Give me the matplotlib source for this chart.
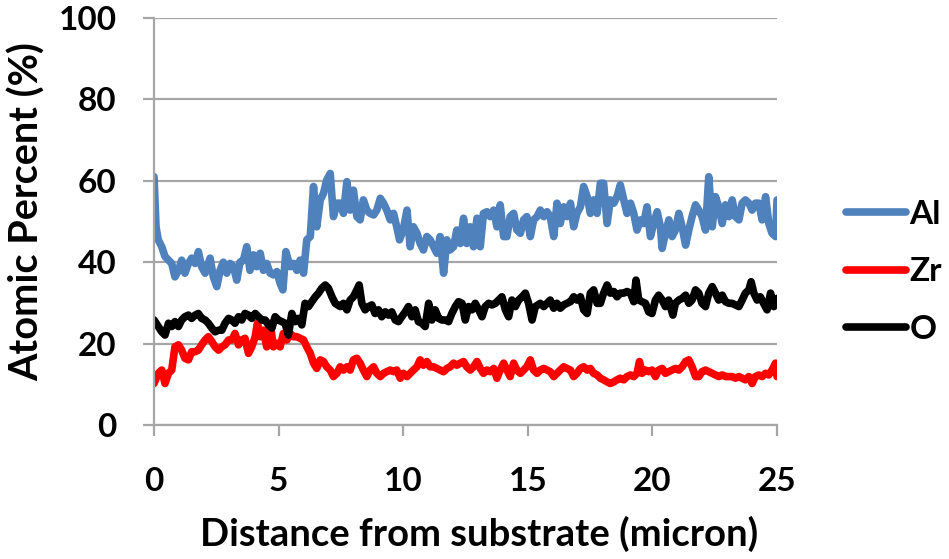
import matplotlib
matplotlib.use('Agg')
import matplotlib.pyplot as plt

# distance from substrate (micron) and atomic percent
al_x = [0, 0.08, 0.17, 0.31, 0.44, 0.58, 0.71, 0.84, 0.98, 1.11, 1.24, 1.38, 1.51, 1.65, 1.78, 1.91,
	2.05, 2.25, 2.38, 2.52, 2.65, 2.78, 2.92, 3.05, 3.19, 3.32, 3.45, 3.59, 3.72, 3.85, 3.99, 4.12,
	4.26, 4.39, 4.52, 4.66, 4.79, 4.93, 5.06, 5.17, 5.29, 5.46, 5.6, 5.73, 5.86, 6.0, 6.13, 6.27,
	6.4, 6.53, 6.67, 6.8, 6.93, 7.07, 7.2, 7.34,
	7.47, 7.6, 7.74, 7.87, 8.0, 8.14, 8.27, 8.4, 8.54, 8.67, 8.81, 8.94, 9.08, 9.21, 9.34, 9.48,
	9.61, 9.74, 9.85, 10.0, 10.15, 10.28, 10.41, 10.55, 10.68, 10.81, 10.95, 11.08, 11.22, 11.35,
	11.48, 11.62, 11.75, 11.88, 12.02, 12.15, 12.29, 12.42, 12.55, 12.69, 12.82, 12.96, 13.09,
	13.22, 13.36, 13.49, 13.63, 13.76, 13.89, 14.03, 14.16, 14.29, 14.43, 14.56, 14.7, 14.83,
	14.96, 15.1, 15.23, 15.37,
	15.5, 15.64, 15.77, 15.9, 16.04, 16.17, 16.3, 16.44, 16.57, 16.71, 16.84, 16.97, 17.11, 17.24,
	17.38, 17.51, 17.64, 17.78, 17.91, 18.04, 18.18, 18.31, 18.45, 18.58, 18.71, 18.85, 18.98,
	19.12, 19.25, 19.38, 19.52, 19.65, 19.78, 19.92, 20.05, 20.19, 20.32, 20.39, 20.52, 20.66,
	20.79, 20.92, 21.06, 21.19, 21.33, 21.46, 21.59, 21.73, 21.86, 21.99, 22.13, 22.26, 22.4,
	22.53, 22.66, 22.8, 22.93, 23.07, 23.2, 23.33, 23.47, 23.6, 23.73, 23.87, 24.0, 24.13, 24.27,
	24.4, 24.54, 24.67, 24.8, 24.94, 25.0]
al_y = [61, 48.7, 45.5, 43.8, 41.4, 40.5, 39.7, 36.4, 38, 40.5, 37.3, 39.7, 41, 39.7, 42.6, 38.9,
	37.3, 41, 36.4, 34, 38, 40, 37.3, 39.7, 38.9, 35.6, 40, 40.5, 43.8, 38, 41.8, 38.9,
	42.2, 38, 39.7, 37.3, 36.9, 37.7, 34.8, 33.2, 42.6, 38.9, 39.7, 38, 40.5, 37.3, 45.5, 46.3,
	58.6, 48.7, 55.3, 56.9, 60.2, 61.8, 51.2, 54.5,
	54.5, 52, 59.8, 52.8, 57.7, 51.2, 50.4, 55.3, 52.8, 52, 51.6, 52.8, 55.7, 54.5, 52.8, 50.4,
	52, 48.7, 45.5, 47.9, 52.8, 43.8, 48.7, 47.1, 44.6, 43, 46.3, 45.5, 43.8, 42.2,
	46.3, 37.3, 45.5, 43, 43.8, 47.9, 44.6, 50.8, 44.6, 48.7, 43.8, 50.8, 43.8,
	52, 52.4, 51.2, 52.8, 48.7, 54.1, 46.3, 46.3, 51.2, 52, 47.9, 47.1, 50.4,
	51.2, 46.3, 50.4, 51.2,
	52.8, 51.2, 52.4, 51.2, 46.3, 54.5, 49.5, 53.6, 51.2, 54.5, 48.7, 52, 53.6, 58.6,
	56.1, 52, 55.3, 52, 59.4, 59.4, 49.5, 55.3, 54.5, 56.1, 59, 55.3, 52,
	54.5, 52, 47.9, 50.4, 49.5, 53.6, 46.3, 49.5, 52.4, 48.7, 43.4, 47.1, 50.4,
	46.3, 47.9, 52, 48.7, 44.2, 47.9, 51.2, 54.1, 52.8, 51.2, 47.9, 61, 48.7,
	56.1, 53.6, 49.5, 54.1, 51.2, 55.3, 51.2, 50.4, 54.5, 55.3, 54.5, 52.8, 54.5, 54.5,
	50.4, 56.1, 49.5, 47.1, 46.3, 55.3]

zr_x = [0, 0.17, 0.31, 0.44, 0.58, 0.71, 0.84, 0.98, 1.11, 1.24, 1.38, 1.51, 1.65, 1.78, 1.91,
	2.05, 2.18, 2.32, 2.45, 2.59, 2.72, 2.85, 2.99, 3.12, 3.25, 3.39, 3.52, 3.65, 3.79, 3.92,
	4.06, 4.15, 4.26, 4.39, 4.52, 4.66, 4.79, 4.93, 5.06, 5.19, 5.33, 5.46, 5.6, 5.73, 5.86,
	6.0, 6.13, 6.27, 6.4, 6.53, 6.67, 6.8, 6.93, 7.07, 7.2, 7.34,
	7.47, 7.6, 7.74, 7.87, 8.0, 8.14, 8.27, 8.4, 8.54, 8.67, 8.81, 8.94, 9.08, 9.21, 9.34, 9.48,
	9.61, 9.74, 9.88, 10.01, 10.15, 10.28, 10.41, 10.55, 10.68, 10.81, 10.95, 11.08, 11.22,
	11.35, 11.48, 11.62, 11.75, 11.88, 12.02, 12.15, 12.29, 12.42, 12.55, 12.69, 12.82, 12.96,
	13.09, 13.22, 13.36, 13.49, 13.63, 13.76, 13.89, 14.03, 14.16, 14.29, 14.43, 14.56, 14.7,
	14.83, 14.96, 15.1, 15.23, 15.37,
	15.5, 15.64, 15.77, 15.9, 16.04, 16.17, 16.3, 16.44, 16.57, 16.71, 16.84, 16.97, 17.11,
	17.24, 17.38, 17.51, 17.64, 17.78, 17.91, 18.04, 18.18, 18.31, 18.45, 18.58, 18.71, 18.85,
	18.98, 19.12, 19.25, 19.38, 19.48, 19.58, 19.72, 19.85, 19.98, 20.12, 20.25, 20.39, 20.52,
	20.65, 20.79, 20.92, 21.06, 21.19, 21.33, 21.46, 21.59, 21.73, 21.86, 21.99, 22.13, 22.26,
	22.4, 22.53, 22.66, 22.8, 22.93, 23.07, 23.2, 23.33, 23.47, 23.6, 23.73, 23.87, 24.0, 24.13,
	24.27, 24.4, 24.54, 24.67, 24.8, 24.94, 25.0]
zr_y = [10.2, 12.7, 13.5, 10.2, 12.7, 13.5, 19.2, 19.7, 18.4, 16.4, 16, 18, 18, 18.4, 19.7,
	20.9, 21.7, 20.5, 19.2, 18.4, 19.2, 19.7, 20.9, 20.9, 22.5, 19.7, 20.9, 21.3, 17.6, 19.2,
	21.7, 25, 21.7, 23.3, 19.2, 25, 19.2, 20.1, 19.2, 22.5, 20.9, 22.5, 21.7, 21.7, 21.3,
	20.9, 19.2, 17.6, 15.2, 13.9, 16, 15.6, 14.3, 13.5, 11.9, 12.7,
	14.3, 13.5, 14.3, 13.5, 16, 16.4, 15.2, 13.5, 11.9, 13.5, 14.3, 12.7, 11.9, 12.7, 13.1, 13.5,
	13.1, 13.5, 11.5, 12.7, 11.9, 12.7, 13.5, 14.3, 16, 14.7, 15.6, 14.3, 14.3,
	13.9, 13.5, 13.1, 13.9, 14.3, 15.2, 14.7, 15.2, 15.6, 14.3, 13.5, 14.3, 15.6,
	13.9, 12.7, 13.5, 13.1, 13.9, 11.5, 13.5, 15.2, 13.5, 11.9, 15.2, 13.5, 12.7,
	13.5, 14.3, 16, 13.5, 12.7,
	13.5, 13.9, 13.5, 13.1, 11.9, 12.7, 13.5, 14.3, 13.9, 13.5, 11.9, 12.7, 13.9,
	14.3, 13.5, 13.9, 12.7, 12.3, 11.5, 11.1, 10.6, 10.2, 10.6, 11.1, 11.5, 11.1,
	11.9, 12.3, 11.9, 12.7, 15.6, 12.7, 13.5, 13.1, 13.5, 11.9, 13.5, 13.9, 12.7,
	13.1, 13.5, 13.9, 13.5, 14.3, 15.6, 16, 14.3, 11.9, 11.9, 13.1, 13.5, 13.1,
	12.7, 12.3, 11.9, 12.3, 11.9, 11.9, 11.9, 11.5, 11.9, 11.5, 11.1, 11.9, 10.2, 11.9,
	12.3, 11.9, 12.7, 12.3, 13.5, 15.2, 11.9]

o_x = [0, 0.17, 0.31, 0.44, 0.58, 0.71, 0.84, 0.98, 1.11, 1.24, 1.38, 1.51, 1.65, 1.78, 1.91,
	2.05, 2.18, 2.32, 2.45, 2.59, 2.72, 2.85, 2.99, 3.12, 3.25, 3.39, 3.52, 3.65, 3.79, 3.92,
	4.06, 4.19, 4.32, 4.46, 4.59, 4.73, 4.86, 4.99, 5.13, 5.26, 5.39, 5.53, 5.66, 5.8, 5.93,
	6.06, 6.2, 6.33, 6.47, 6.6, 6.73, 6.87, 7.0, 7.14, 7.27,
	7.47, 7.6, 7.74, 7.87, 8.0, 8.14, 8.23, 8.34, 8.47, 8.61, 8.74, 8.87, 9.01, 9.14, 9.28,
	9.41, 9.54, 9.68, 9.81, 9.94, 10.08, 10.21, 10.35, 10.48, 10.61, 10.75, 10.88, 11.02,
	11.15, 11.28, 11.42, 11.55, 11.69, 11.82, 11.95, 12.09, 12.22, 12.36, 12.49, 12.62, 12.76,
	12.89, 13.03, 13.16, 13.29, 13.43, 13.56, 13.7, 13.83, 13.96, 14.1, 14.23, 14.36, 14.5,
	14.63, 14.77, 14.9, 15.03, 15.17, 15.3,
	15.5, 15.64, 15.77, 15.9, 16.04, 16.17, 16.3, 16.44, 16.57, 16.71, 16.84, 16.97, 17.11,
	17.24, 17.38, 17.51, 17.64, 17.78, 17.91, 18.04, 18.18, 18.31, 18.45, 18.58, 18.71, 18.85,
	18.98, 19.12, 19.25, 19.34, 19.45, 19.58, 19.72, 19.85, 19.98, 20.12, 20.25, 20.39, 20.52,
	20.65, 20.82, 20.92, 21.06, 21.19, 21.33, 21.46, 21.59, 21.73, 21.86, 21.99, 22.13, 22.26,
	22.4, 22.53, 22.66, 22.8, 22.93, 23.07, 23.2, 23.33, 23.47, 23.6, 23.73, 23.87, 23.96,
	24.07, 24.2, 24.33, 24.46, 24.6, 24.74, 24.87, 25.0]
o_y = [25.8, 24.2, 22.9, 22.1, 25, 24.2, 25.4, 24.2, 25.8, 26.6, 27, 26.2, 27, 27.4, 26.2,
	25.8, 25, 23.8, 22.9, 23.3, 23.3, 25, 26.2, 25.8, 25, 26.6, 25.8, 27.4, 27, 26.2,
	27.4, 26.6, 25.8, 25.8, 24.6, 23.8, 26.6, 25.8, 25.4, 25, 22.1, 27.4, 25.4, 26.2, 24.6,
	29.9, 29.1, 30.3, 31.5, 32.4, 33.6, 34.4, 33.6, 31.5, 29.9,
	29.1, 29.9, 28.3, 30.7, 31.5, 33.2, 34.4, 29.9, 28.3, 29.1, 29.5, 27.4, 28.3, 26.6, 27.8,
	27, 27.8, 25.8, 25.4, 26.6, 27.8, 29.1, 26.6, 28.3, 25.4, 25, 24.2, 29.9,
	25.8, 28.3, 26.2, 25.8, 25.8, 25.4, 27.4, 29.1, 30.3, 29.9, 25.8, 29.1, 28.3,
	29.9, 28.3, 26.6, 29.1, 29.9, 29.5, 29.9, 30.7, 31.5, 28.3, 26.6, 30.7, 29.1,
	30.7, 31.5, 32.4, 29.9, 25.8, 29.1,
	29.9, 29.1, 29.9, 30.7, 28.7, 29.9, 28.7, 29.5, 29.9, 30.3, 31.5, 30.7, 31.5,
	28.3, 27.4, 32.4, 33.2, 29.9, 29.9, 32.4, 34.4, 32.4, 32.8, 31.5, 32.4, 32.4,
	32.8, 32.4, 30.3, 35.6, 30.7, 30.3, 29.9, 27.8, 27.4, 30.7, 31.9, 30.7, 29.1,
	30.7, 27, 29.9, 30.7, 31.1, 31.9, 29.9, 30.7, 33.2, 32.4, 29.9, 29.1, 32.4,
	34, 32.4, 30.7, 31.9, 30.3, 29.9, 29.9, 29.5, 29.1, 30.7, 32.4, 33.2, 35.2,
	32.4, 30.7, 31.5, 29.9, 28.3, 32.4, 29.1, 31.1]

x_ticks = [0, 5, 10, 15, 20, 25]
y_ticks = [0, 20, 40, 60, 80, 100]

plt.rcParams['font.family'] = ['Lato', 'DejaVu Sans']
plt.rcParams['font.weight'] = 'bold'

grid_col = '#A6A6A6'

fig = plt.figure(figsize=(9.49, 5.59), dpi=100)
ax = fig.add_axes([0.1623, 0.2397, 0.6565, 0.7281])

ax.plot(al_x, al_y, color='#4F81BD', lw=5.5, solid_joinstyle='round', solid_capstyle='round', label='Al')
ax.plot(zr_x, zr_y, color='#FF0000', lw=5.5, solid_joinstyle='round', solid_capstyle='round', label='Zr')
ax.plot(o_x, o_y, color='#000000', lw=5.5, solid_joinstyle='round', solid_capstyle='round', label='O')

ax.set_xlim(0, 25)
ax.set_ylim(0, 100)
ax.set_xticks(x_ticks)
ax.set_yticks(y_ticks)
ax.yaxis.grid(True, color=grid_col, lw=1.6)
ax.set_axisbelow(True)

for s in ['top', 'right']:
	ax.spines[s].set_visible(False)
for s in ['left', 'bottom']:
	ax.spines[s].set_color(grid_col)
	ax.spines[s].set_linewidth(1.6)

ax.tick_params(axis='x', direction='out', length=8, width=1.6, color=grid_col, pad=22, labelsize=24)
ax.tick_params(axis='y', direction='out', length=8, width=1.6, color=grid_col, pad=19, labelsize=24)

ax.set_xlabel('Distance from substrate (micron)', fontsize=27.5, fontweight='bold')
ax.set_ylabel('Atomic Percent (%)', fontsize=28.5, fontweight='bold')
ax.xaxis.set_label_coords(0.522, -0.222)
ax.yaxis.set_label_coords(-0.174, 0.525)

leg = ax.legend(loc='upper left', bbox_to_anchor=(0.8915, 0.642), bbox_transform=fig.transFigure,
	frameon=False, fontsize=24, handlelength=1.8, handletextpad=0.1, labelspacing=0.85,
	borderpad=0, borderaxespad=0)

plt.savefig('out.png', dpi=100)
